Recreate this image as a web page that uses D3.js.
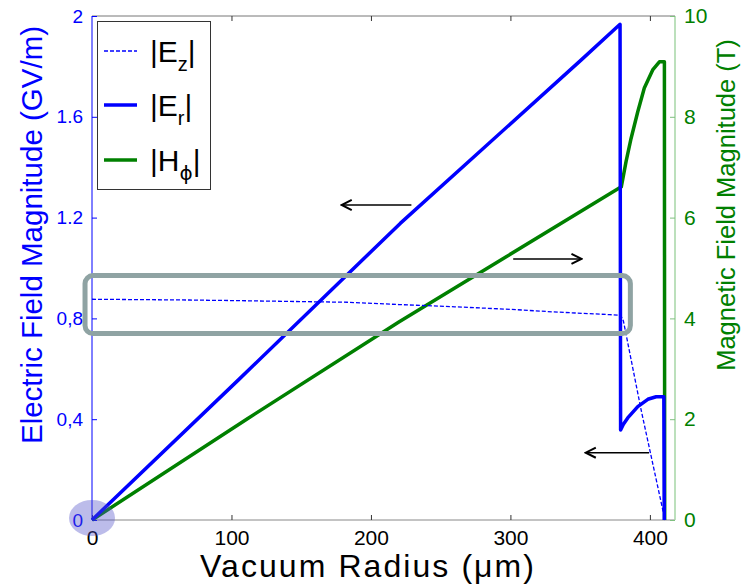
<!DOCTYPE html>
<html>
<head>
<meta charset="utf-8">
<script src="https://cdn.jsdelivr.net/npm/d3@7"></script>
<style>
  body { margin: 0; background: #fff; }
  svg { display: block; font-family: Arial, "Liberation Sans", sans-serif; }
</style>
</head>
<body>
<svg width="755" height="587"></svg>
<script>
// radius in um, |Er| and |Ez| in GV/m, |Hphi| in T
var erR   = [0, 105, 221, 350.6, 378.6, 379, 381, 384.1, 391.3, 398.5, 404.5, 410, 410.3];
var erVal = [0, 0.556, 1.177, 1.825, 1.967, 0.357, 0.38, 0.405, 0.45, 0.479, 0.489, 0.489, 0];

var ezR   = [0, 70, 110, 183, 220, 260, 300, 330, 371, 379, 381, 393.7, 410.8];
var ezVal = [0.876, 0.873, 0.870, 0.864, 0.855, 0.846, 0.836, 0.826, 0.815, 0.812, 0.79, 0.437, 0];

var hR   = [0, 112, 220, 379.5, 382.9, 386.5, 391.3, 396, 402, 406.8, 410.4, 410.6];
var hVal = [0, 2.02, 3.93, 6.61, 7.11, 7.57, 8.10, 8.57, 8.93, 9.09, 9.09, 0];

var xTicks = [0, 100, 200, 300, 400];
var eTicks = [0, 0.4, 0.8, 1.2, 1.6, 2];
var eTickLabels = ["0", "0,4", "0,8", "1.2", "1.6", "2"];
var hTicks = [0, 2, 4, 6, 8, 10];

var svg = d3.select("svg");

var x = d3.scaleLinear().domain([0, 418]).range([92, 675]);
var yE = d3.scaleLinear().domain([0, 2]).range([520, 16]);
var yH = d3.scaleLinear().domain([0, 10]).range([520, 16]);

var blue = "#0000ff", green = "#008000";
var font = "Arial, 'Liberation Sans', sans-serif";

// frame: top + bottom grey, left blue, right light green
svg.append("line").attr("x1", x(0)).attr("x2", x(418)).attr("y1", 16).attr("y2", 16)
    .attr("stroke", "#777").attr("stroke-width", 1);

var bottomAxis = svg.append("g").attr("transform", "translate(0,520)")
    .call(d3.axisBottom(x).tickValues(xTicks).tickSize(-5).tickPadding(10).tickFormat(d3.format("d")));
bottomAxis.select(".domain").attr("stroke", "#888").attr("d", "M92,0H675");
bottomAxis.selectAll(".tick line").attr("stroke", "#333");
bottomAxis.selectAll(".tick text").attr("font-size", 21).attr("fill", "#000").attr("font-family", font);

svg.append("g").attr("transform", "translate(0,16)")
    .call(d3.axisTop(x).tickValues(xTicks.slice(1)).tickSize(-5).tickFormat(""))
    .call(function (g) { g.select(".domain").remove(); g.selectAll("line").attr("stroke", "#333"); });

var leftAxis = svg.append("g").attr("transform", "translate(92,0)")
    .call(d3.axisLeft(yE).tickValues(eTicks).tickSize(-5).tickPadding(9)
        .tickFormat(function (d, i) { return eTickLabels[i]; }));
leftAxis.select(".domain").attr("stroke", blue).attr("d", "M0,16V520");
leftAxis.selectAll(".tick line").attr("stroke", blue);
leftAxis.selectAll(".tick text").attr("font-size", 19).attr("fill", blue).attr("font-family", font);

var rightAxis = svg.append("g").attr("transform", "translate(675,0)")
    .call(d3.axisRight(yH).tickValues(hTicks).tickSize(-5).tickPadding(9));
rightAxis.select(".domain").attr("stroke", "#a6d6a6").attr("stroke-width", 1.5).attr("d", "M0,16V520");
rightAxis.selectAll(".tick line").attr("stroke", "#7fbf7f");
rightAxis.selectAll(".tick text").attr("font-size", 21).attr("fill", green).attr("font-family", font);

// curves
function pts(rs, vs) { return rs.map(function (r, i) { return [r, vs[i]]; }); }

var lineE = d3.line().x(function (d) { return x(d[0]); }).y(function (d) { return yE(d[1]); });
var lineH = d3.line().x(function (d) { return x(d[0]); }).y(function (d) { return yH(d[1]); });

svg.append("path").datum(pts(hR, hVal)).attr("d", lineH)
    .attr("fill", "none").attr("stroke", green).attr("stroke-width", 3.5).attr("stroke-linejoin", "round");
svg.append("path").datum(pts(erR, erVal)).attr("d", lineE)
    .attr("fill", "none").attr("stroke", blue).attr("stroke-width", 3.5).attr("stroke-linejoin", "round");
svg.append("path").datum(pts(ezR, ezVal)).attr("d", lineE)
    .attr("fill", "none").attr("stroke", blue).attr("stroke-width", 1.3).attr("stroke-dasharray", "4,2");

// highlight box and origin marker
svg.append("rect")
    .attr("x", x(-5)).attr("y", yE(0.97))
    .attr("width", x(386) - x(-5)).attr("height", yE(0.74) - yE(0.97))
    .attr("rx", 8).attr("fill", "none").attr("stroke", "#8fa3a3").attr("stroke-width", 5);

svg.append("ellipse").attr("cx", x(0)).attr("cy", yE(0) - 2).attr("rx", 23).attr("ry", 18)
    .attr("fill", "rgba(80,80,200,0.38)");

// arrows
svg.append("defs").append("marker").attr("id", "head")
    .attr("viewBox", "0 0 10 10").attr("refX", 9).attr("refY", 5)
    .attr("markerWidth", 9).attr("markerHeight", 9).attr("orient", "auto")
    .append("path").attr("d", "M1,1L9,5L1,9").attr("fill", "none").attr("stroke", "#000").attr("stroke-width", 1.6);

var arrows = [
    { r0: 229, r1: 179, v: 1.25 },
    { r0: 302, r1: 351, v: 1.036 },
    { r0: 399.4, r1: 354, v: 0.267 }
];
svg.selectAll(".arrow").data(arrows).enter().append("line").attr("class", "arrow")
    .attr("x1", function (d) { return x(d.r0); }).attr("x2", function (d) { return x(d.r1); })
    .attr("y1", function (d) { return yE(d.v); }).attr("y2", function (d) { return yE(d.v); })
    .attr("stroke", "#000").attr("stroke-width", 1.4).attr("marker-end", "url(#head)");

// legend
var legend = svg.append("g");
legend.append("rect").attr("x", 97.5).attr("y", 21.5).attr("width", 113).attr("height", 168)
    .attr("fill", "#fff").attr("stroke", "#333").attr("stroke-width", 1);

var legendItems = [
    { main: "E", sub: "z", color: blue, width: 1.3, dash: "4,2", y: 51 },
    { main: "E", sub: "r", color: blue, width: 3.5, dash: null, y: 105 },
    { main: "H", sub: "\u03d5", color: green, width: 3.5, dash: null, y: 160 }
];
legendItems.forEach(function (d) {
    legend.append("line").attr("x1", 104).attr("x2", 137).attr("y1", d.y).attr("y2", d.y)
        .attr("stroke", d.color).attr("stroke-width", d.width).attr("stroke-dasharray", d.dash);
    var t = legend.append("text").attr("x", 150).attr("y", d.y + 11).attr("font-size", 30).attr("fill", "#000");
    t.append("tspan").text("|" + d.main);
    t.append("tspan").attr("dy", 9).attr("font-size", 20)
        .attr("font-family", d.sub === "\u03d5" ? "'DejaVu Sans', sans-serif" : null).text(d.sub);
    t.append("tspan").attr("dy", -9).text("|");
});

// axis titles
svg.append("text").attr("transform", "translate(42,235) rotate(-90)")
    .attr("text-anchor", "middle").attr("font-size", 29.5).attr("fill", blue)
    .text("Electric Field Magnitude (GV/m)");

svg.append("text").attr("transform", "translate(735,205) rotate(-90)")
    .attr("text-anchor", "middle").attr("font-size", 25.5).attr("fill", green)
    .text("Magnetic Field Magnitude (T)");

svg.append("text").attr("x", 367).attr("y", 577)
    .attr("text-anchor", "middle").attr("font-size", 32).attr("fill", "#000")
    .attr("textLength", 334).attr("lengthAdjust", "spacing")
    .text("Vacuum Radius (\u03bcm)");
</script>
</body>
</html>
